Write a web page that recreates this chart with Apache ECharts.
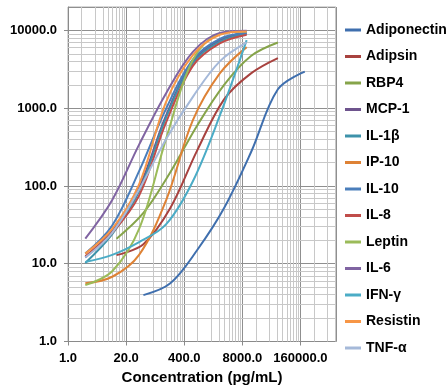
<!DOCTYPE html>
<html>
<head>
<meta charset="utf-8">
<script src="https://cdn.jsdelivr.net/npm/echarts@6/dist/echarts.min.js"></script>
<style>
html,body{margin:0;padding:0;background:#fff;}
#c{width:448px;height:390px;}
</style>
</head>
<body>
<div id="c"></div>
<script>
// Concentrations (pg/mL), 4-fold dilution series
const concA = [2.44, 9.77, 39.06, 156.25, 625, 2500, 10000];
const concB = [12.2, 48.8, 195.3, 781.3, 3125, 12500, 50000];
const concC = [48.8, 195.3, 781.3, 3125, 12500, 50000, 200000];

// MFI values
const adiponectin = [3.95, 5.6, 15, 52, 271, 1750, 2950];
const adipsin     = [12.9, 17.8, 52, 287, 1300, 2800, 4400];
const rbp4        = [21, 45, 150, 600, 2000, 4700, 7000];
const mcp1        = [12, 27, 95, 800, 4000, 7500, 9200];
const il1b        = [10.2, 24, 85, 750, 3800, 7200, 9000];
const ip10        = [5.6, 6.8, 13, 65, 700, 2800, 6100];
const il10        = [13.5, 31, 155, 980, 4200, 7800, 9300];
const il8         = [12.5, 25, 75, 650, 3500, 6800, 8800];
const leptin      = [5.3, 8, 28, 400, 4200, 9000, 9700];
const il6         = [21, 66, 340, 1550, 5300, 9300, 9900];
const ifng        = [10.5, 13, 19, 32, 115, 800, 7500];
const resistin    = [13.5, 28, 105, 1200, 4800, 8800, 9700];
const tnfa        = [12, 25, 90, 400, 1400, 4000, 7000];

const names = ['Adiponectin','Adipsin','RBP4','MCP-1','IL-1β','IP-10','IL-10','IL-8','Leptin','IL-6','IFN-γ','Resistin','TNF-α'];
const values = [adiponectin, adipsin, rbp4, mcp1, il1b, ip10, il10, il8, leptin, il6, ifng, resistin, tnfa];
const concs = [concC, concB, concB, concA, concA, concA, concA, concA, concA, concA, concA, concA, concA];
const colors = ['#3F6FAE','#A8423F','#86A44A','#6E548D','#3D92AA','#DE8235','#4A7EBB','#C04D4A','#9BBB59','#8064A2','#4BACC6','#F79646','#A5B9D9'];

const xTickLabels = ['1.0','20.0','400.0','8000.0','160000.0'];
const yTickLabels = ['1.0','10.0','100.0','1000.0','10000.0'];

// minor gridline positions
const xMinor = [];
for (let k = 0; k < 5; k++) for (let m = 2; m <= 18; m += 2) { const v = m * Math.pow(20, k); if (v < 1e6) xMinor.push(v); }
const yMinor = [];
for (let k = 0; k < 5; k++) for (let m = 2; m <= 9; m++) { const v = m * Math.pow(10, k); if (v < 20000) yMinor.push(v); }

const FONT = "'Liberation Sans', Arial, sans-serif";

const series = [{
  type: 'line', name: '_grid', data: [], z: 0, silent: true,
  markLine: {
    silent: true, symbol: ['none','none'], animation: false,
    label: {show: false},
    lineStyle: {color: '#c8c8c8', width: 1, type: 'solid'},
    emphasis: {disabled: true},
    data: xMinor.map(v => ({xAxis: v})).concat(yMinor.map(v => ({yAxis: v})))
  }
}];
names.forEach((n, i) => {
  series.push({
    type: 'line', name: n, z: 5,
    data: concs[i].map((x, j) => [x, values[i][j]]),
    smooth: 0.35,
    showSymbol: false, symbol: 'none',
    lineStyle: {width: 2, color: colors[i]},
    itemStyle: {color: colors[i]},
    animation: false
  });
});

function fmt(v) { return (Math.round(v * 100) / 100).toFixed(1); }

const chart = echarts.init(document.getElementById('c'), null, {renderer: 'canvas'});
chart.setOption({
  animation: false,
  backgroundColor: '#fff',
  grid: {left: 68, right: 112, top: 7, bottom: 48.5, show: true, borderColor: '#b0b0b0', borderWidth: 1,
         containLabel: false, outerBoundsMode: 'none'},
  legend: {
    orient: 'vertical', left: 340, top: 17.5, itemGap: 11.5,
    itemWidth: 16, itemHeight: 3, icon: 'rect',
    textStyle: {fontFamily: FONT, fontWeight: 'bold', fontSize: 14, color: '#000', lineHeight: 15},
    data: names
  },
  xAxis: {
    type: 'log', logBase: 20, min: 1, max: 1e6,
    name: 'Concentration (pg/mL)', nameLocation: 'middle', nameGap: 29,
    nameTextStyle: {fontFamily: FONT, fontWeight: 'bold', fontSize: 15, color: '#000'},
    axisLine: {show: true, lineStyle: {color: '#8a8a8a'}},
    axisTick: {show: true, length: 4, lineStyle: {color: '#8a8a8a'}},
    axisLabel: {fontFamily: FONT, fontWeight: 'bold', fontSize: 13, color: '#000', margin: 10, showMaxLabel: false,
      formatter: v => { const s = fmt(v); return xTickLabels.indexOf(s) >= 0 ? s : ''; }},
    splitLine: {show: true, lineStyle: {color: '#8f8f8f', width: 1}},
    minorTick: {show: false}
  },
  yAxis: {
    type: 'log', logBase: 10, min: 1, max: 20000,
    name: 'MFI', nameLocation: 'middle', nameGap: 48, nameRotate: 90,
    nameTextStyle: {fontFamily: FONT, fontWeight: 'bold', fontSize: 16, color: '#000'},
    axisLine: {show: true, lineStyle: {color: '#8a8a8a'}},
    axisTick: {show: true, length: 4, lineStyle: {color: '#8a8a8a'}},
    axisLabel: {fontFamily: FONT, fontWeight: 'bold', fontSize: 13, color: '#000', margin: 11, showMaxLabel: false,
      formatter: v => { const s = fmt(v); return yTickLabels.indexOf(s) >= 0 ? s : ''; }},
    splitLine: {show: true, lineStyle: {color: '#8f8f8f', width: 1}}
  },
  series: series
});
</script>
</body>
</html>
